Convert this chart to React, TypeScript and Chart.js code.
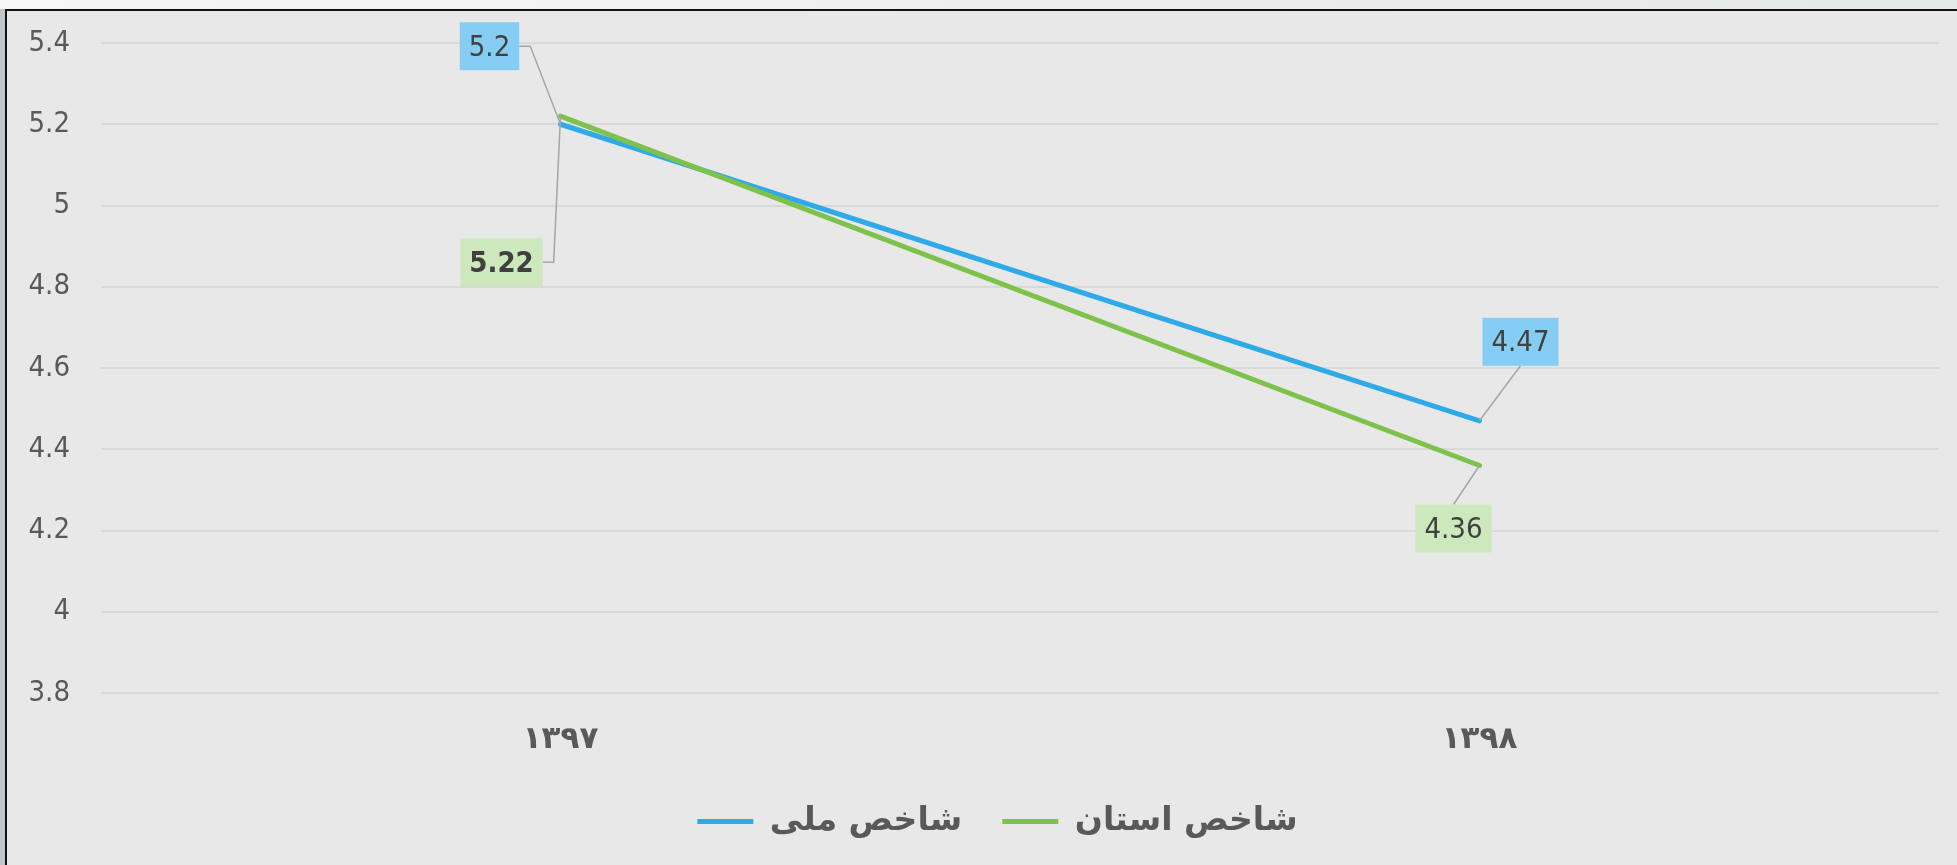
import React, { useEffect, useRef } from 'react';
import { Chart, registerables } from 'chart.js';

Chart.register(...registerables);

// ---- data ----
const categories = ['۱۳۹۷', '۱۳۹۸'];
const nationalValues = [5.2, 4.47];
const provinceValues = [5.22, 4.36];
const seriesNames = ['شاخص ملی', 'شاخص استان'];
const yMin = 3.8;
const yMax = 5.4;
const yStep = 0.2;

// ---- styling ----
const W = 1957;
const H = 865;
const BLUE = '#2EAAE8';
const GREEN = '#7EC24B';
const BLUE_BOX = '#86CDF4';
const GREEN_BOX = '#CDE8BC';
const NUM_FONT = '"Liberation Sans Narrow", "DejaVu Sans Condensed", "Roboto", sans-serif';
const AR_FONT = '"DejaVu Sans", sans-serif';
const LEGEND_SHIFT = 28;

// label placement offsets (pixels from the point), per dataset, per category
const labelPlacement = [
  [
    { dx: -71, dy: -78, leader: 'right', bold: false },
    { dx: 41, dy: -79, leader: 'bottom', bold: false },
  ],
  [
    { dx: -59, dy: 146, leader: 'right', bold: true },
    { dx: -26, dy: 63, leader: 'top', bold: false },
  ],
];
const boxColors = [BLUE_BOX, GREEN_BOX];

const framePlugin = {
  id: 'frame',
  beforeDraw(chart: any) {
    const { ctx, width, height } = chart;
    ctx.save();
    ctx.fillStyle = '#E8E8E8';
    ctx.fillRect(0, 0, width, height);
    const g = ctx.createLinearGradient(0, 0, width, 0);
    g.addColorStop(0, '#F6F6F6');
    g.addColorStop(1, '#E5E8E8');
    ctx.fillStyle = g;
    ctx.fillRect(0, 0, width, 9);
    ctx.fillStyle = '#C0C5C7';
    ctx.fillRect(0, 9, 5, height - 9);
    ctx.fillStyle = '#111111';
    ctx.fillRect(5, 9, 2, height - 9);
    ctx.fillRect(5, 9, width - 5, 2);
    ctx.restore();
  },
};

const legendShiftPlugin = {
  id: 'legendShift',
  afterLayout(chart: any) {
    if (chart.legend) {
      chart.legend.left += LEGEND_SHIFT * 2;
    }
  },
};

const dataLabelPlugin = {
  id: 'boxLabels',
  afterDatasetsDraw(chart: any) {
    const { ctx } = chart;
    ctx.save();
    chart.data.datasets.forEach((ds: any, di: number) => {
      const meta = chart.getDatasetMeta(di);
      meta.data.forEach((pt: any, i: number) => {
        const place = labelPlacement[di][i];
        const text = String(ds.data[i]);
        ctx.font = `${place.bold ? '600 ' : ''}29px ${NUM_FONT}`;
        const tw = ctx.measureText(text).width;
        const bw = tw + 18;
        const bh = 48;
        const cx = pt.x + place.dx;
        const cy = pt.y + place.dy;
        const left = cx - bw / 2;
        const top = cy - bh / 2;
        // leader line
        ctx.strokeStyle = '#A6A6A6';
        ctx.lineWidth = 1.5;
        ctx.beginPath();
        if (place.leader === 'right') {
          ctx.moveTo(left + bw, cy);
          ctx.lineTo(left + bw + 11, cy);
          ctx.lineTo(pt.x, pt.y);
        } else if (place.leader === 'bottom') {
          ctx.moveTo(cx, top + bh);
          ctx.lineTo(pt.x, pt.y);
        } else {
          ctx.moveTo(cx, top);
          ctx.lineTo(pt.x, pt.y);
        }
        ctx.stroke();
        // box
        ctx.fillStyle = boxColors[di];
        ctx.fillRect(left, top, bw, bh);
        ctx.fillStyle = '#404040';
        ctx.textAlign = 'center';
        ctx.textBaseline = 'middle';
        ctx.fillText(text, cx, cy + 2);
      });
    });
    ctx.restore();
  },
};

export default function App() {
  const ref = useRef<HTMLCanvasElement>(null);

  useEffect(() => {
    if (!ref.current) return;
    const chart = new Chart(ref.current, {
      type: 'line',
      data: {
        labels: categories,
        datasets: [
          {
            label: seriesNames[0],
            data: nationalValues,
            borderColor: BLUE,
            backgroundColor: BLUE,
            borderWidth: 5,
            borderCapStyle: 'round',
            pointRadius: 0,
            tension: 0,
            order: 1,
          },
          {
            label: seriesNames[1],
            data: provinceValues,
            borderColor: GREEN,
            backgroundColor: GREEN,
            borderWidth: 5,
            borderCapStyle: 'round',
            pointRadius: 0,
            tension: 0,
            order: 0,
          },
        ],
      },
      options: {
        responsive: false,
        animation: false,
        devicePixelRatio: 1,
        layout: { padding: { left: 0, right: 18, top: 43, bottom: 17 } },
        scales: {
          x: {
            offset: true,
            grid: { display: false, drawTicks: false },
            border: { display: false },
            ticks: {
              padding: 28,
              color: '#595959',
              font: { family: AR_FONT, size: 31, weight: 'bold' },
            },
            afterFit(scale: any) {
              scale.height = 72;
            },
          },
          y: {
            min: yMin,
            max: yMax,
            grid: { color: '#D9D9D9', lineWidth: 2, drawTicks: false },
            border: { display: false },
            ticks: {
              stepSize: yStep,
              padding: 31,
              color: '#595959',
              font: { family: NUM_FONT, size: 29 },
              callback: (v: any) => String(Number(Number(v).toFixed(1))),
            },
            afterFit(scale: any) {
              scale.width = 101;
              scale.paddingTop = 0;
              scale.paddingBottom = 0;
            },
          },
        },
        plugins: {
          legend: {
            position: 'bottom',
            labels: {
              usePointStyle: true,
              pointStyle: 'line',
              pointStyleWidth: 56,
              padding: 40,
              color: '#595959',
              font: { family: AR_FONT, size: 33, weight: 'bold' },
              sort: (a: any, b: any) => a.datasetIndex - b.datasetIndex,
            },
          },
          tooltip: { enabled: false },
        },
      },
      plugins: [framePlugin, legendShiftPlugin, dataLabelPlugin],
    });
    return () => chart.destroy();
  }, []);

  return (
    <div style={{ width: W, height: H }}>
      <style>{`body{margin:0;}`}</style>
      <canvas ref={ref} width={W} height={H} style={{ display: 'block', width: W, height: H }} />
    </div>
  );
}
